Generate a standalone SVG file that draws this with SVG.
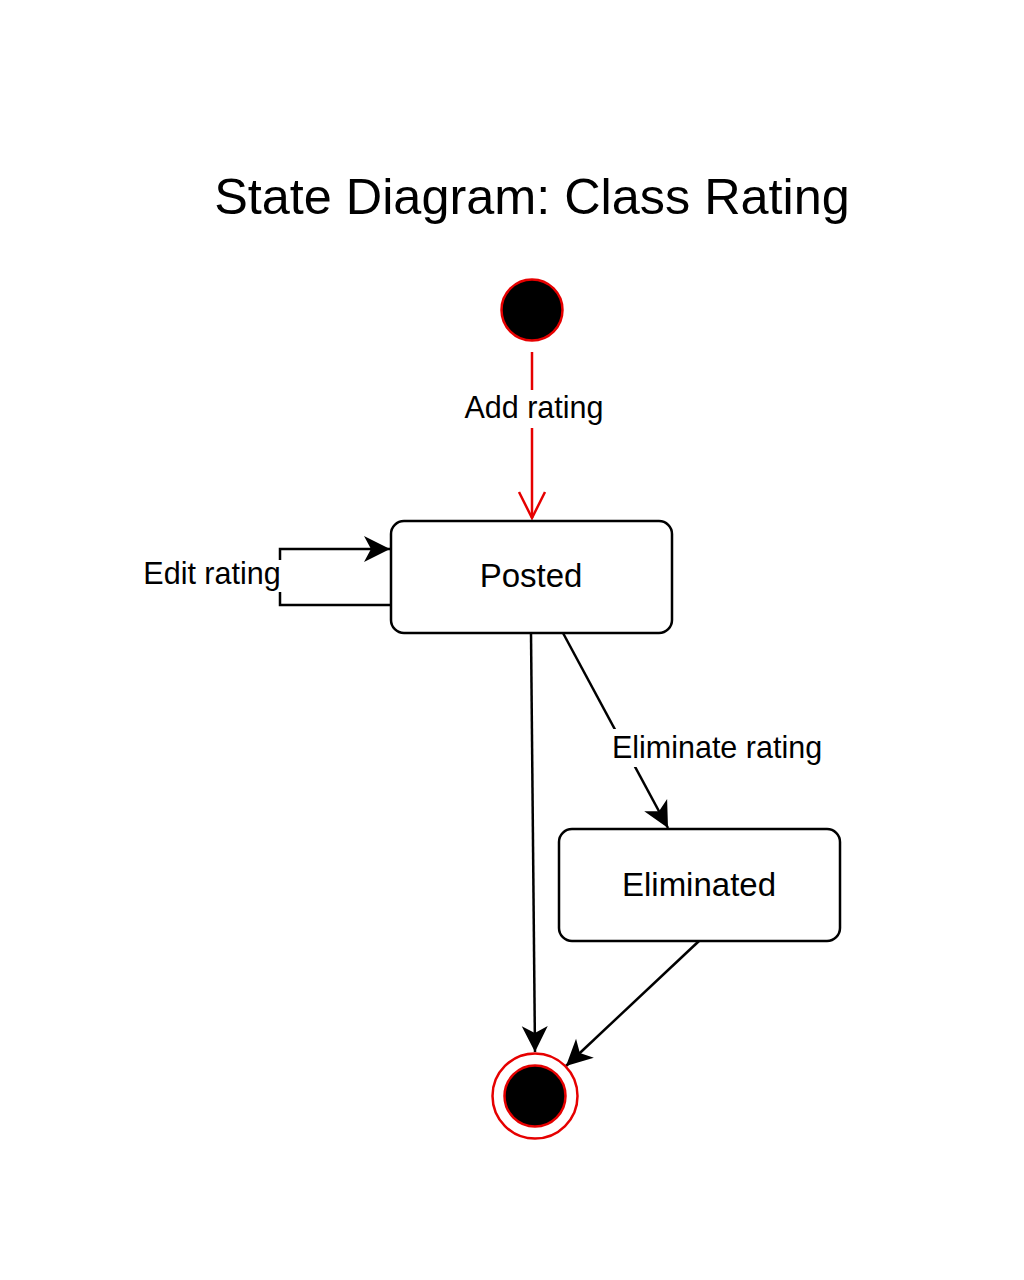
<svg xmlns="http://www.w3.org/2000/svg" width="1024" height="1280" viewBox="0 0 1024 1280">
<style>
  text { font-family: "Liberation Sans", Arial, sans-serif; fill: #000; text-anchor: middle; }
  .title { font-size: 50.4px; }
  .node { font-size: 33px; }
  .lbl { font-size: 30.5px; }
  .state { fill: #fff; stroke: #000; stroke-width: 2.5; }
  .edge { fill: none; stroke: #000; stroke-width: 2.5; }
  .red { fill: none; stroke: #e60000; stroke-width: 2.5; }
  .bg { fill: #fff; stroke: none; }
</style>
<defs>
  <marker id="arr" markerUnits="userSpaceOnUse" markerWidth="32" markerHeight="32" viewBox="-29 -16 32 32" refX="0" refY="0" orient="auto">
    <path d="M0,0 L-26,-13 L-19,0 L-26,13 Z" fill="#000"/>
  </marker>
  <marker id="open" markerUnits="userSpaceOnUse" markerWidth="32" markerHeight="32" viewBox="-29 -16 32 32" refX="0" refY="0" orient="auto">
    <path d="M-26,-13 L0,0 L-26,13" fill="none" stroke="#e60000" stroke-width="2.5"/>
  </marker>
</defs>
<rect width="1024" height="1280" fill="#fff"/>
<text class="title" x="532" y="214">State Diagram: Class Rating</text>

<g id="connectors">
  <g id="e-add">
    <path class="red" d="M532,352 V518" marker-end="url(#open)"/>
    <rect class="bg" x="462" y="390" width="145" height="38"/>
    <text class="lbl" x="534" y="418">Add rating</text>
  </g>
  <g id="e-edit">
    <path class="edge" d="M391,605 H280 V549 H390" marker-end="url(#arr)"/>
    <rect class="bg" x="140" y="560" width="143" height="32"/>
    <text class="lbl" x="212" y="584">Edit rating</text>
  </g>
  <g id="e-eliminate">
    <path class="edge" d="M563,633 L668,828" marker-end="url(#arr)"/>
    <rect class="bg" x="608" y="729" width="218" height="38"/>
    <text class="lbl" x="717" y="758">Eliminate rating</text>
  </g>
  <path id="e-posted-final" class="edge" d="M531,633 L535,1052" marker-end="url(#arr)"/>
  <path id="e-elim-final" class="edge" d="M699,941 L566,1066" marker-end="url(#arr)"/>
</g>

<g id="initial">
  <circle cx="532" cy="310" r="30.5" fill="#000" stroke="#e60000" stroke-width="2.5"/>
</g>
<g id="posted">
  <rect class="state" x="391" y="521" width="281" height="112" rx="13"/>
  <text class="node" x="531" y="587">Posted</text>
</g>
<g id="eliminated">
  <rect class="state" x="559" y="829" width="281" height="112" rx="13"/>
  <text class="node" x="699" y="896">Eliminated</text>
</g>
<g id="final">
  <circle cx="535" cy="1096" r="42.5" fill="#fff" stroke="#e60000" stroke-width="2.5"/>
  <circle cx="535" cy="1096" r="30.5" fill="#000" stroke="#e60000" stroke-width="2.5"/>
</g>
</svg>
